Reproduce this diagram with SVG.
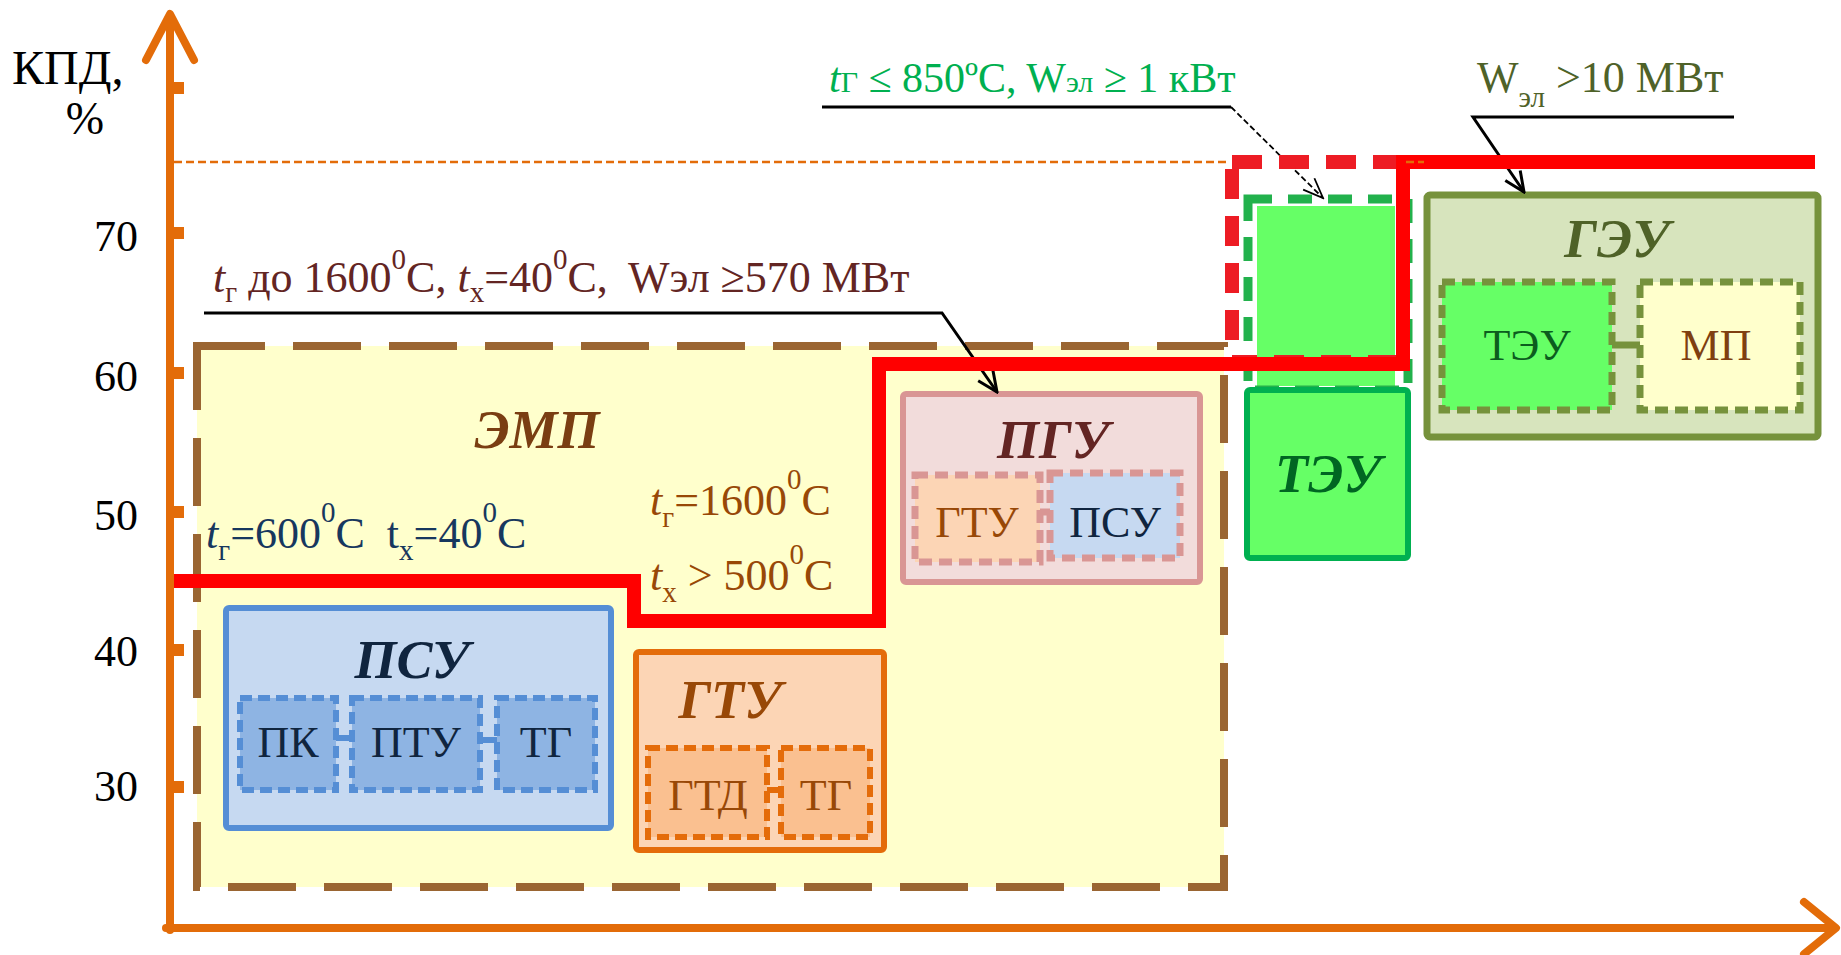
<svg xmlns="http://www.w3.org/2000/svg" width="1841" height="955" viewBox="0 0 1841 955" font-family="'Liberation Serif', 'DejaVu Serif', serif">
<style>
text, tspan{font-family:'Liberation Serif', 'DejaVu Serif', serif}
.tick{font-size:44px;fill:#000;text-anchor:end}
.title{font-size:54px;font-style:italic;font-weight:bold;text-anchor:middle}
.sub{font-size:44px;text-anchor:middle}
.lbl{font-size:44px}
.axis{stroke:#E36C09;stroke-width:8;fill:none;stroke-linecap:round;stroke-linejoin:round}
.leader{stroke:#000;stroke-width:3;fill:none}
</style>
<defs>
<marker id="open" viewBox="0 0 24 24" refX="22" refY="12" markerWidth="24" markerHeight="24" markerUnits="userSpaceOnUse" orient="auto">
<path d="M2,3 L22,12 L2,21" fill="none" stroke="#000" stroke-width="3"/>
</marker>
<marker id="openthin" viewBox="0 0 24 24" refX="22" refY="12" markerWidth="24" markerHeight="24" markerUnits="userSpaceOnUse" orient="auto">
<path d="M2,4 L22,12 L2,20" fill="none" stroke="#000" stroke-width="1.8"/>
</marker>
</defs>
<rect width="1841" height="955" fill="#fff"/>

<g id="axes">
<line class="axis" x1="170" y1="930" x2="170" y2="16"/>
<polyline class="axis" stroke-width="9" points="146,60 170,14 194,60"/>
<line class="axis" x1="166" y1="928" x2="1834" y2="928"/>
<polyline class="axis" stroke-width="9" points="1804,902 1836,928 1804,954"/>
<g fill="#E36C09">
<rect x="170" y="82" width="14" height="12"/>
<rect x="170" y="227" width="14" height="12"/>
<rect x="170" y="367" width="14" height="12"/>
<rect x="170" y="506" width="14" height="12"/>
<rect x="170" y="644" width="14" height="12"/>
<rect x="170" y="781" width="14" height="12"/>
</g>
<text x="12" y="84" font-size="48">КПД,</text>
<text x="85" y="134" font-size="46" text-anchor="middle">%</text>
<text class="tick" x="138" y="251">70</text>
<text class="tick" x="138" y="391">60</text>
<text class="tick" x="138" y="530">50</text>
<text class="tick" x="138" y="666">40</text>
<text class="tick" x="138" y="801">30</text>
<line x1="174" y1="162" x2="1226" y2="162" stroke="#E36C09" stroke-width="2.5" stroke-dasharray="8 4"/>
</g>

<g id="EMP">
<rect x="197" y="346" width="1027" height="541" fill="#FFFFCC" stroke="#9A6532" stroke-width="8" stroke-dasharray="68 28"/>
<text class="title" x="537" y="448" fill="#7A3E12">ЭМП</text>
</g>

<g id="PSU">
<rect x="226" y="608" width="385" height="220" rx="3" fill="#C6D9F1" stroke="#558ED5" stroke-width="6"/>
<text class="title" x="412" y="678" fill="#10253F">ПСУ</text>
<g fill="#8EB4E3" stroke="#558ED5" stroke-width="6" stroke-dasharray="12 6">
<rect x="240" y="698" width="96" height="92"/>
<rect x="352" y="698" width="128" height="92"/>
<rect x="497" y="698" width="98" height="92"/>
</g>
<text class="sub" x="288" y="757" fill="#10253F">ПК</text>
<text class="sub" x="416" y="757" fill="#10253F">ПТУ</text>
<text class="sub" x="546" y="757" fill="#10253F">ТГ</text>
</g>

<g id="GTU">
<rect x="636" y="652" width="248" height="198" rx="3" fill="#FCD5B5" stroke="#E46C0A" stroke-width="6"/>
<text class="title" x="730" y="718" fill="#984807">ГТУ</text>
<g fill="#FAC090" stroke="#E46C0A" stroke-width="6" stroke-dasharray="12 6">
<rect x="648" y="748" width="119" height="89"/>
<rect x="781" y="748" width="89" height="89"/>
</g>
<text class="sub" x="708" y="810" fill="#984807">ГТД</text>
<text class="sub" x="826" y="810" fill="#984807">ТГ</text>
</g>

<g id="PGU">
<rect x="903" y="394" width="297" height="188" rx="3" fill="#F2DCDB" stroke="#D99694" stroke-width="6"/>
<text class="title" x="1053" y="458" fill="#632523">ПГУ</text>
<rect x="915" y="475" width="125" height="87" fill="#FCD5B5" stroke="#D99694" stroke-width="7" stroke-dasharray="13 7"/>
<rect x="1050" y="473" width="130" height="85" fill="#C6D9F1" stroke="#D99694" stroke-width="7" stroke-dasharray="13 7"/>
<text class="sub" x="977" y="537" fill="#984807">ГТУ</text>
<text class="sub" x="1115" y="537" fill="#10253F">ПСУ</text>
</g>

<g id="TEU-high">
<rect x="1257" y="206" width="138" height="180" fill="#66FF66"/>
<rect x="1248" y="199" width="160" height="191" fill="none" stroke="#22B14C" stroke-width="9" stroke-dasharray="24 16"/>
</g>

<g id="TEU">
<rect x="1247" y="390" width="161" height="168" rx="3" fill="#66FF66" stroke="#00B050" stroke-width="6"/>
<text class="title" x="1328" y="492" fill="#006622">ТЭУ</text>
</g>

<g id="GEU">
<rect x="1427" y="195" width="391" height="242" rx="3" fill="#D7E4BD" stroke="#76923C" stroke-width="7"/>
<text class="title" x="1617" y="257" fill="#4F6228">ГЭУ</text>
<rect x="1442" y="282" width="170" height="128" fill="#66FF66" stroke="#76923C" stroke-width="7" stroke-dasharray="13 7"/>
<rect x="1640" y="282" width="160" height="128" fill="#FFFFCC" stroke="#76923C" stroke-width="7" stroke-dasharray="13 7"/>
<text class="sub" x="1527" y="360" fill="#0B5D1E">ТЭУ</text>
<text class="sub" x="1716" y="360" fill="#7F3F10">МП</text>
</g>

<g id="connectors">
<line x1="336" y1="738" x2="352" y2="738" stroke="#558ED5" stroke-width="6"/>
<line x1="480" y1="740" x2="497" y2="740" stroke="#558ED5" stroke-width="6"/>
<line x1="767" y1="790" x2="781" y2="790" stroke="#E46C0A" stroke-width="6"/>
<line x1="1040" y1="512" x2="1050" y2="512" stroke="#D99694" stroke-width="7"/>
<line x1="1612" y1="345" x2="1640" y2="345" stroke="#76923C" stroke-width="7"/>
<polyline class="leader" points="204,313 942,313 997,392" marker-end="url(#open)"/>
<polyline class="leader" points="1734,117 1473,117 1524,192" marker-end="url(#open)"/>
<line x1="822" y1="107" x2="1231" y2="107" stroke="#000" stroke-width="3"/>
<line x1="1231" y1="107" x2="1323" y2="198" stroke="#000" stroke-width="1.8" stroke-dasharray="6 3" marker-end="url(#openthin)"/>
</g>

<g id="efficiency-line">
<rect x="1232" y="162" width="171" height="200" fill="none" stroke="#ED1C24" stroke-width="14" stroke-dasharray="30 17"/>
<polyline points="174,581 634,581 634,621 879,621 879,364 1403,364 1403,162 1815,162" fill="none" stroke="#FF0000" stroke-width="14"/>
<line x1="1406" y1="162" x2="1424" y2="162" stroke="#E36C09" stroke-width="2.5" stroke-dasharray="8 4"/>
</g>

<g id="labels">
<text class="lbl" x="213" y="292" fill="#632523"><tspan font-style="italic">t</tspan><tspan font-size="29" dy="10">г</tspan><tspan dy="-10"> до 1600</tspan><tspan font-size="29" dy="-23">0</tspan><tspan dy="23">C, </tspan><tspan font-style="italic">t</tspan><tspan font-size="29" dy="10">х</tspan><tspan dy="-10">=40</tspan><tspan font-size="29" dy="-23">0</tspan><tspan dy="23">C, </tspan><tspan dx="10">Wэл ≥570 МВт</tspan></text>
<text class="lbl" x="829" y="92" font-size="42" style="font-size:42px" fill="#00B050"><tspan font-style="italic">t</tspan><tspan font-size="30">Г</tspan><tspan> ≤ 850ºC, W</tspan><tspan font-size="30">эл</tspan><tspan> ≥ 1 кВт</tspan></text>
<text class="lbl" x="1477" y="92" fill="#4F6228">W<tspan font-size="29" dy="15">эл</tspan><tspan dy="-15"> &gt;10 МВт</tspan></text>
<text class="lbl" x="206" y="548" fill="#17375E"><tspan font-style="italic">t</tspan><tspan font-size="29" dy="12">г</tspan><tspan dy="-12">=600</tspan><tspan font-size="29" dy="-26">0</tspan><tspan dy="26">C</tspan><tspan dx="22">t</tspan><tspan font-size="29" dy="12">х</tspan><tspan dy="-12">=40</tspan><tspan font-size="29" dy="-26">0</tspan><tspan dy="26">C</tspan></text>
<text class="lbl" x="650" y="515" fill="#984807"><tspan font-style="italic">t</tspan><tspan font-size="29" dy="12">г</tspan><tspan dy="-12">=1600</tspan><tspan font-size="29" dy="-26">0</tspan><tspan dy="26">C</tspan></text>
<text class="lbl" x="650" y="590" fill="#984807"><tspan font-style="italic">t</tspan><tspan font-size="29" dy="12">х</tspan><tspan dy="-12"> &gt; 500</tspan><tspan font-size="29" dy="-26">0</tspan><tspan dy="26">C</tspan></text>
</g>
</svg>
